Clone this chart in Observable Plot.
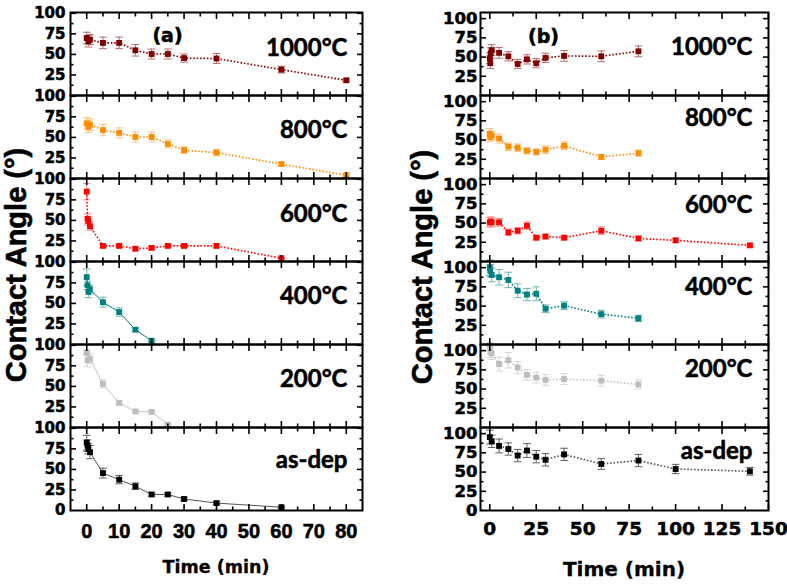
<!DOCTYPE html>
<html><head><meta charset="utf-8">
<script src="https://cdn.jsdelivr.net/npm/d3@7"></script>
<script src="https://cdn.jsdelivr.net/npm/@observablehq/plot@0.6"></script>
<style>
body{margin:0;background:#fff;}
#chart{position:relative;width:787px;height:586px;overflow:hidden;background:#fff;}
#chart svg{position:absolute;top:0;}
#chart svg text{font-weight:bold;stroke:#000;stroke-width:0.55px;}
.ytitle{position:absolute;font:bold 29px "Liberation Sans",Arial,sans-serif;line-height:1;white-space:nowrap;transform:translate(-50%,-50%) rotate(-90deg);color:#000;-webkit-text-stroke:0.6px #000;}
.xtitle{position:absolute;font-weight:bold;font-family:"DejaVu Sans",sans-serif;line-height:1;white-space:nowrap;transform:translateX(-50%);color:#000;-webkit-text-stroke:0.3px #000;}
</style></head><body><div id="chart"></div>
<script>
// ---------- data ----------
const panels = ["1000°C","800°C","600°C","400°C","200°C","as-dep"];

// (a) left column
const a1000_t = [0, 0.5, 1, 5, 10, 15, 20, 25, 30, 40, 60, 80];
const a1000_v = [70, 66, 68, 64, 64, 55, 50.5, 50.5, 45.5, 45, 31.5, 18.5];
const a1000_e = [7, 7, 6, 7, 7, 7, 6, 6, 5, 6, 4, 1.5];

const a800_t = [0, 0.5, 1, 5, 10, 15, 20, 25, 30, 40, 60, 80];
const a800_v = [67, 63, 65.5, 59, 55.5, 50.5, 50.5, 42, 34.5, 31.5, 17.5, 4];
const a800_e = [7, 7, 7, 7, 6, 6, 6, 5, 4, 4, 2, 2];

const a600_t = [0, 0.25, 0.5, 1, 5, 10, 15, 20, 25, 30, 40, 60];
const a600_v = [85, 52, 49.5, 43, 19, 19, 15.5, 16.5, 19, 19, 19, 4];
const a600_e = [10, 6, 5, 5, 2, 2, 2, 2, 2, 2, 2, 1];

const a400_t = [0, 0.25, 0.5, 1, 5, 10, 15, 20];
const a400_v = [82, 72, 64, 67, 51.5, 39.5, 18, 4.5];
const a400_e = [10, 5, 7, 5, 6, 5, 2, 1];

const a200_t = [0, 0.25, 1, 5, 10, 15, 20, 25];
const a200_v = [91, 82, 83.5, 53, 30, 19.5, 19, 3.5];
const a200_e = [3, 8, 6, 5, 3, 1.5, 1.5, 1];

const aDep_t = [0, 0.25, 0.5, 1, 5, 10, 15, 20, 25, 30, 40, 60];
const aDep_v = [82.5, 79, 75, 71, 45.5, 37.5, 29.5, 19.5, 19.5, 14, 9, 4];
const aDep_e = [9, 7, 6, 8, 6, 5, 4, 2, 2, 2, 2, 1];

// (b) right column
const b1000_t = [0, 0.25, 0.5, 1, 5, 10, 15, 20, 25, 30, 40, 60, 80];
const b1000_v = [48.5, 42, 55, 59, 55.5, 51, 41, 47, 42, 49, 51.5, 51, 57.5];
const b1000_e = [7, 7, 7, 7, 7, 6, 6, 6, 6, 6, 7, 7, 7];

const b800_t = [0, 0.25, 1, 5, 10, 15, 20, 25, 30, 40, 60, 80];
const b800_v = [58, 54, 56, 52, 41.5, 40, 36, 34.5, 37.5, 42.5, 28, 33];
const b800_e = [7, 6, 6, 6, 5, 5, 4, 4, 5, 5, 3, 4];

const b600_t = [0, 0.5, 1, 5, 10, 15, 20, 25, 30, 40, 60, 80, 100, 140];
const b600_v = [51, 52, 51, 51, 38, 40, 46.5, 31, 32.5, 31, 40, 30, 27.5, 21];
const b600_e = [6, 6, 6, 5, 4, 4, 5, 3, 3, 3, 5, 3, 3, 2];

const b400_t = [0, 0.25, 1, 5, 10, 15, 20, 25, 30, 40, 60, 80];
const b400_v = [100, 96, 90.5, 87.5, 84, 70, 65, 66, 46.5, 50.5, 39.5, 34];
const b400_e = [10, 8, 9, 10, 10, 9, 8, 9, 5, 5, 5, 4];

const b200_t = [0, 0.25, 1, 5, 10, 15, 20, 25, 30, 40, 60, 80];
const b200_v = [107, 99, 96.5, 82.5, 87.5, 78, 68.5, 65, 62, 63, 61, 56];
const b200_e = [3, 8, 8, 9, 10, 8, 7, 7, 7, 7, 7, 6];

const bDep_t = [0, 1, 5, 10, 15, 20, 25, 30, 40, 60, 80, 100, 140];
const bDep_v = [95.5, 90, 84, 80, 71.5, 78, 70, 66, 73, 60.5, 65, 54, 51];
const bDep_e = [9, 8, 9, 8, 8, 9, 8, 8, 8, 7, 8, 6, 5];

// tick values
const xTicksA = [0, 10, 20, 30, 40, 50, 60, 70, 80];
const xMinorA = [5, 15, 25, 35, 45, 55, 65, 75];
const xTicksB = [0, 25, 50, 75, 100, 125, 150];
const xMinorB = [12.5, 37.5, 62.5, 87.5, 112.5, 137.5];
const yTicks = [25, 50, 75, 100];
const yMinor = [12.5, 37.5, 62.5, 87.5];

// ---------- styling ----------
const colors = ["#800000", "#ff8c00", "#ff0000", "#008080", "#bdbdbd", "#000000"];
const errColors = ["#b86a6a", "#ffc27a", "#ff8a8a", "#6fb5b5", "#d6d6d6", "#606060"];
const lineColors = ["#800000", "#ff8c00", "#ff0000", "#008080", "#c4c4c4", "#555555"];

const capSymbol = {draw(ctx, size) { const w = Math.sqrt(size / Math.PI); ctx.moveTo(-w, 0); ctx.lineTo(w, 0); }};

function rowsOf(name, t, v, e) { return t.map((tt, j) => ({panel: name, t: tt, v: v[j], e: e[j]})); }

function column({series, dotted, xDomain, yDomain, xTicks, xMinor, width, marginLeft, marginRight,
                 yFont, yFontSize, yPad, xFont, xFontSize, xPad, labelDy, labelDx, tag, tagDx, tagDy}) {
  const marks = [];
  series.forEach((rows, i) => {
    marks.push(Plot.ruleX(rows, {x: "t", y1: d => d.v - d.e, y2: d => d.v + d.e, fy: "panel", stroke: errColors[i], strokeWidth: 1}));
    marks.push(Plot.dot(rows, {x: "t", y: d => d.v + d.e, fy: "panel", symbol: capSymbol, r: 3.8, fill: "none", stroke: errColors[i], strokeWidth: 1}));
    marks.push(Plot.dot(rows, {x: "t", y: d => d.v - d.e, fy: "panel", symbol: capSymbol, r: 3.8, fill: "none", stroke: errColors[i], strokeWidth: 1}));
    marks.push(Plot.line(rows, {x: "t", y: "v", fy: "panel", stroke: lineColors[i],
      strokeWidth: dotted[i] ? 1.6 : 1, strokeLinecap: "butt",
      strokeDasharray: dotted[i] ? "1.6,1.8" : null}));
    marks.push(Plot.dot(rows, {x: "t", y: "v", fy: "panel", symbol: "square", r: 3.3, fill: colors[i], stroke: null}));
  });
  panels.forEach((p, i) => {
    marks.push(Plot.text([p], {fy: d => d, text: d => d, frameAnchor: "top-right", textAnchor: "end", lineAnchor: "bottom",
      dx: labelDx, dy: labelDy[i], fontFamily: "Lato, 'Open Sans', sans-serif", fontWeight: "bold", fontSize: 24, fill: "#000"}));
  });
  marks.push(Plot.text([tag], {fy: () => panels[0], text: d => d, frameAnchor: "top-left", textAnchor: "middle", lineAnchor: "bottom",
    dx: tagDx, dy: tagDy, fontFamily: "'DejaVu Sans', sans-serif", fontWeight: "bold", fontSize: 19, fill: "#000"}));
  // axes: inward ticks on all four sides
  const tickStyle = {fill: "none", stroke: "#000", strokeWidth: 1.6, label: null};
  marks.push(
    Plot.axisY(yTicks, {anchor: "left", tickSize: -6, ...tickStyle}),
    Plot.axisY(yMinor, {anchor: "left", tickSize: -3.5, ...tickStyle}),
    Plot.axisY(yTicks, {anchor: "right", tickSize: -6, ...tickStyle}),
    Plot.axisY(yMinor, {anchor: "right", tickSize: -3.5, ...tickStyle}),
    Plot.axisX(xTicks, {anchor: "bottom", tickSize: -6, facetAnchor: null, ...tickStyle}),
    Plot.axisX(xMinor, {anchor: "bottom", tickSize: -3.5, facetAnchor: null, ...tickStyle}),
    Plot.axisX(xTicks, {anchor: "top", tickSize: -6, facetAnchor: null, ...tickStyle}),
    Plot.axisX(xMinor, {anchor: "top", tickSize: -3.5, facetAnchor: null, ...tickStyle}),
    Plot.axisY(yTicks, {anchor: "left", tickSize: 0, tickPadding: yPad, label: null, fill: "#000",
      fontFamily: yFont, fontWeight: "bold", fontSize: yFontSize}),
    Plot.axisY([0], {anchor: "left", tickSize: 0, tickPadding: yPad, label: null, fill: "#000", facetAnchor: "bottom",
      fontFamily: yFont, fontWeight: "bold", fontSize: yFontSize}),
    Plot.axisX(xTicks, {anchor: "bottom", tickSize: 0, tickPadding: xPad, label: null, fill: "#000",
      fontFamily: xFont, fontWeight: "bold", fontSize: xFontSize}),
    Plot.frame({stroke: "#000", strokeWidth: 2})
  );
  return Plot.plot({
    width, height: 586, marginLeft, marginRight, marginTop: 10, marginBottom: 74,
    x: {domain: xDomain, label: null},
    y: {domain: yDomain, label: null},
    fy: {domain: panels, padding: 0, axis: null, label: null},
    style: {background: "transparent", overflow: "visible"},
    marks
  });
}

const left = column({
  series: [rowsOf(panels[0], a1000_t, a1000_v, a1000_e), rowsOf(panels[1], a800_t, a800_v, a800_e),
           rowsOf(panels[2], a600_t, a600_v, a600_e), rowsOf(panels[3], a400_t, a400_v, a400_e),
           rowsOf(panels[4], a200_t, a200_v, a200_e), rowsOf(panels[5], aDep_t, aDep_v, aDep_e)],
  dotted: [true, true, true, false, false, false],
  xDomain: [-5, 85], yDomain: [0, 101], xTicks: xTicksA, xMinor: xMinorA,
  width: 390, marginLeft: 70, marginRight: 28,
  yFont: "'DejaVu Sans', sans-serif", yFontSize: 15, yPad: 5,
  xFont: "'Liberation Sans', Arial, sans-serif", xFontSize: 20, xPad: 13,
  labelDy: [43, 42, 43, 42, 42, 40], labelDx: -15, tag: "(a)", tagDx: 97, tagDy: 29
});
const right = column({
  series: [rowsOf(panels[0], b1000_t, b1000_v, b1000_e), rowsOf(panels[1], b800_t, b800_v, b800_e),
           rowsOf(panels[2], b600_t, b600_v, b600_e), rowsOf(panels[3], b400_t, b400_v, b400_e),
           rowsOf(panels[4], b200_t, b200_v, b200_e), rowsOf(panels[5], bDep_t, bDep_v, bDep_e)],
  dotted: [true, true, true, true, true, true],
  xDomain: [-5, 150], yDomain: [0, 108], xTicks: xTicksB, xMinor: xMinorB,
  width: 397, marginLeft: 90, marginRight: 19,
  yFont: "'DejaVu Sans', sans-serif", yFontSize: 16.5, yPad: 3,
  xFont: "'DejaVu Sans', sans-serif", xFontSize: 18.5, xPad: 11,
  labelDy: [42, 30, 34, 33, 32, 31], labelDx: -16, tag: "(b)", tagDx: 63, tagDy: 30
});

const chart = document.getElementById("chart");
left.style.left = "0px";
right.style.left = "390px";
chart.append(left, right);

function addTitle(cls, text, css) {
  const d = document.createElement("div");
  d.className = cls; d.textContent = text; Object.assign(d.style, css); chart.append(d);
}
addTitle("ytitle", "Contact Angle (°)", {left: "16px", top: "265px"});
addTitle("ytitle", "Contact Angle (°)", {left: "422px", top: "267px"});
addTitle("xtitle", "Time (min)", {left: "216px", top: "559px", fontSize: "17.5px"});
addTitle("xtitle", "Time (min)", {left: "624px", top: "558.7px", fontSize: "20px"});
</script></body></html>
